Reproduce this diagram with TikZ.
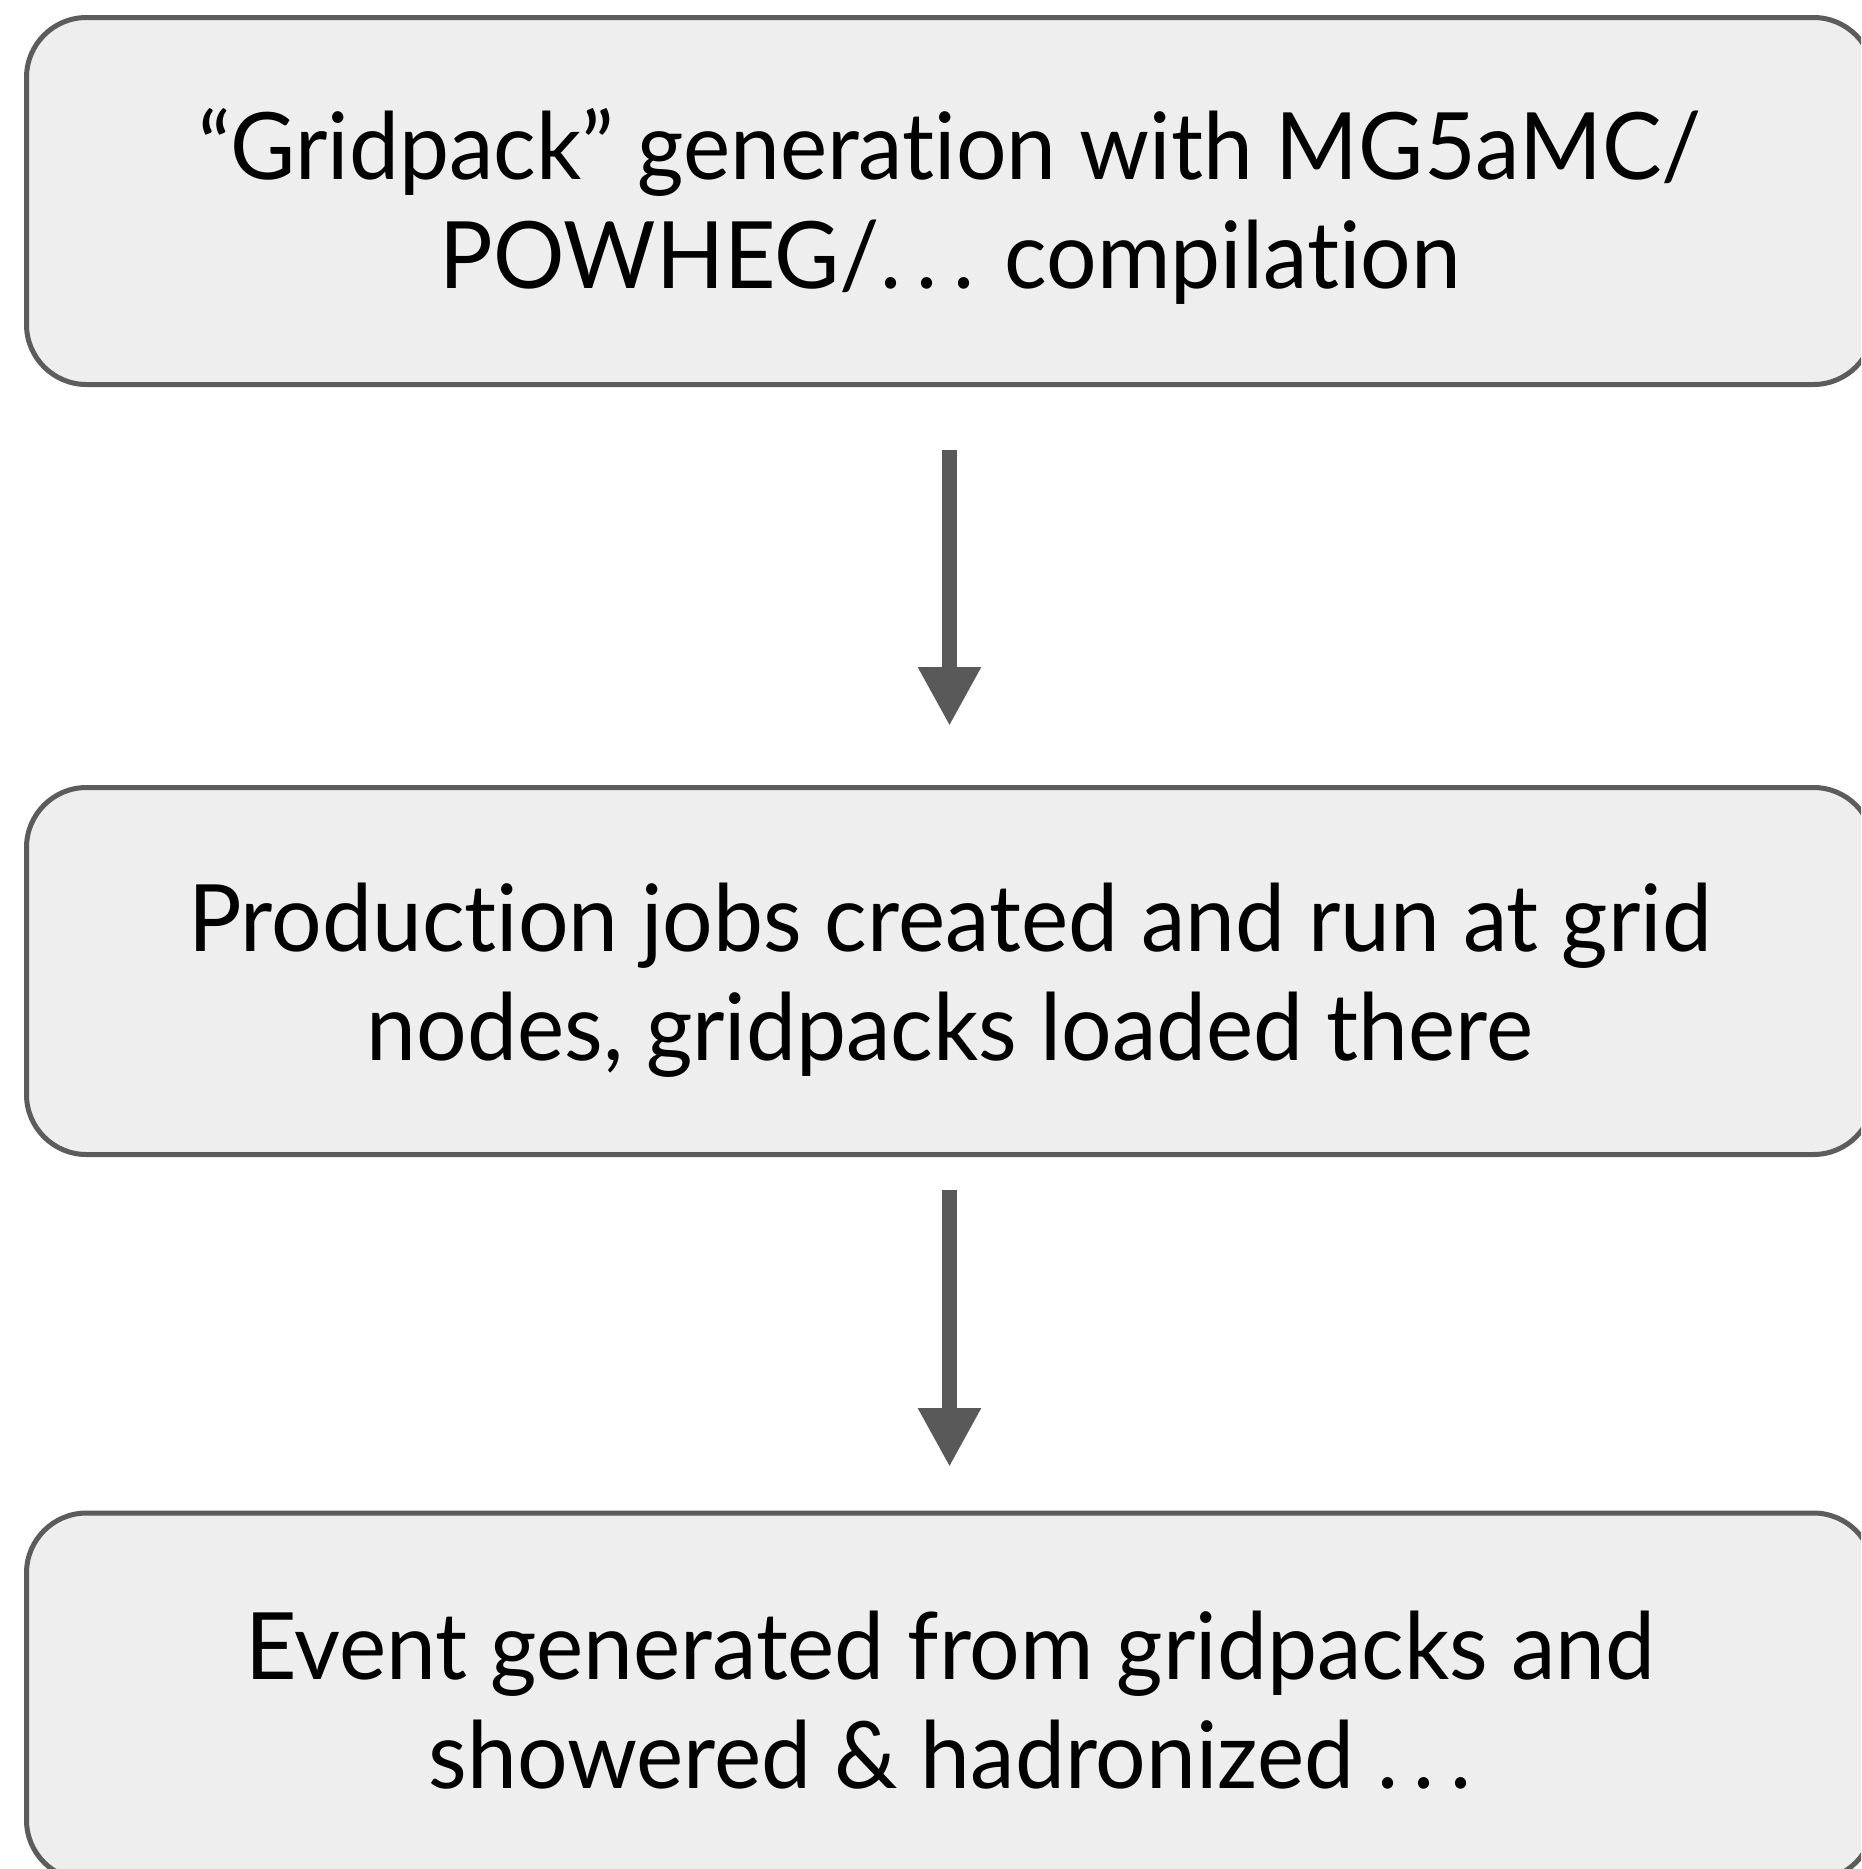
\documentclass[tikz,border=0pt]{standalone}
\usepackage{fontspec}
\setmainfont{Lato}[FakeStretch=0.96,Ligatures=NoCommon]
\usetikzlibrary{arrows.meta}
\definecolor{boxfill}{HTML}{EEEEEE}
\definecolor{boxline}{HTML}{5C5C5C}
\definecolor{arrcol}{HTML}{595959}
\tikzset{
  box/.style={draw=boxline, fill=boxfill, line width=5pt, rounded corners=60pt,
    minimum width=1847pt, minimum height=367pt, inner sep=0pt},
  txt/.style={align=center, font=\fontsize{93}{109}\selectfont, inner sep=0pt},
  arr/.style={draw=arrcol, line width=15pt,
    -{Triangle[width=59pt,length=59pt,color=arrcol]}}
}
\begin{document}
\begin{tikzpicture}[x=1pt,y=-1pt]
\useasboundingbox (0,0) rectangle (1861,1869);
\fill[white] (0,0) rectangle (1861,1869);
\clip (0,0) rectangle (1861,1869);
\node[box] (b1) at (950,201) {};
\node[box] (b2) at (950,971) {};
\node[box] (b3) at (950,1696.5) {};
\node[txt] (t1) at (950,206) {“Gridpack” generation with MG5aMC/\\POWHEG/.\,.\,. compilation};
\node[txt] (t2) at (950,980) {Production jobs created and run at grid\\nodes, gridpacks loaded there};
\node[txt] (t3) at (950,1700) {Event generated from gridpacks and\\showered \& hadronized .\,.\,.};
\coordinate (a1s) at (949.5,450);
\coordinate (a1e) at (949.5,726);
\coordinate (a2s) at (949.5,1190);
\coordinate (a2e) at (949.5,1467);
\draw[arr] (a1s) -- (a1e);
\draw[arr] (a2s) -- (a2e);
\end{tikzpicture}
\end{document}
